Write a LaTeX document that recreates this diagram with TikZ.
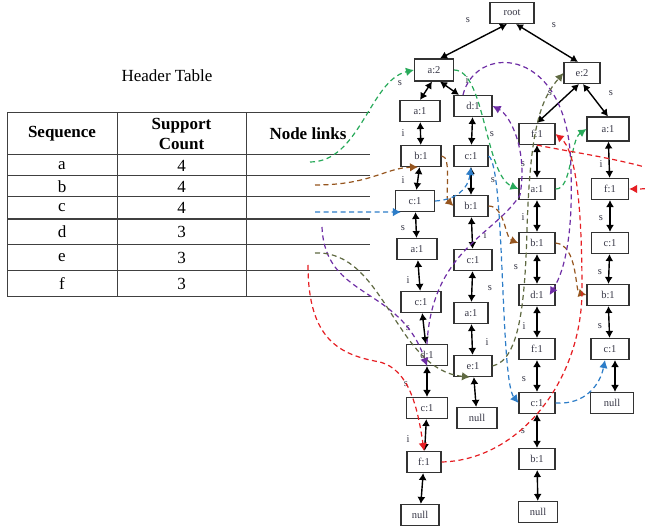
\documentclass[tikz,border=0pt]{standalone}
\usepackage{fontspec}
\setmainfont{Liberation Serif}
\usetikzlibrary{arrows.meta}
\definecolor{lkgreen}{RGB}{40,170,90}
\definecolor{lkbrown}{RGB}{150,85,30}
\definecolor{lkblue}{RGB}{45,125,200}
\definecolor{lkpurple}{RGB}{110,45,165}
\definecolor{lkolive}{RGB}{95,105,65}
\definecolor{lkred}{RGB}{230,30,35}
\definecolor{inkgray}{RGB}{55,55,70}
\begin{document}
\begin{tikzpicture}[x=1pt,y=-1pt,
  box/.style={draw=black!80, line width=1.1pt, minimum width=36pt, minimum height=21pt,
              inner sep=0pt, text=inkgray, font=\fontsize{10.5}{12}\selectfont},
  tree/.style={{Latex[length=7pt,width=8pt]}-{Latex[length=7pt,width=8pt]}, line width=1.4pt},
  tag/.style={text=inkgray, font=\fontsize{10.5}{12}\selectfont, inner sep=0pt},
  nl/.style={dash pattern=on 5pt off 3.5pt, line width=1.2pt, -{Latex[length=8pt,width=8.5pt]}},
  rule/.style={draw=black!75, line width=1pt},
  cell/.style={font=\fontsize{17}{20}\selectfont, inner sep=0pt},
  hcell/.style={font=\fontsize{17}{20}\selectfont\bfseries, inner sep=0pt, align=center},
]
\useasboundingbox (0,0) rectangle (645,529);
\fill[white] (0,0) rectangle (645,529);
\clip (0,0) rectangle (645,529);

% ---------- header table ----------
\node[cell] (title) at (167,76) {Header Table};
\foreach \yy in {113,155,176,197,245,271,297}
  \draw[rule] (7,\yy) -- (370,\yy);
\draw[rule, line width=1.6pt] (7,219) -- (370,219);
\foreach \xx in {7,117,246}
  \draw[rule] (\xx,113) -- (\xx,297);
\node[hcell] (hseq) at (62,134) {Sequence};
\node[hcell] (hsup) at (181.5,134) {Support\\Count};
\node[hcell] (hlnk) at (308,134) {Node links};
\foreach \s/\c/\yy [count=\k] in {a/4/165.5, b/4/186.5, c/4/208, d/3/232, e/3/258, f/3/284}{
  \node[cell] (seq\k) at (62,\yy) {\s};
  \node[cell] (cnt\k) at (181.5,\yy) {\c};
}
\coordinate (la) at (310,162);
\coordinate (lb) at (315,185);
\coordinate (lc) at (315,212);
\coordinate (ld) at (322,227);
\coordinate (le) at (315,253);
\coordinate (lf) at (308,265);

% ---------- tree nodes ----------
\node[box, minimum width=44pt] (root) at (512,13) {root};
\node[box, minimum width=39pt, minimum height=22pt] (a2) at (434,70) {a:2};
\node[box] (e2) at (582,73) {e:2};
% first branch
\node[box, minimum width=40pt] (c1a1) at (420,111) {a:1};
\node[box, minimum width=40pt] (c1b1) at (421,156) {b:1};
\node[box, minimum width=39pt] (c1c1) at (415,201) {c:1};
\node[box, minimum width=40pt] (c1a2) at (417,249) {a:1};
\node[box, minimum width=40pt] (c1c2) at (421,302) {c:1};
\node[box, minimum width=41pt] (c1d1) at (427,355) {d:1};
\node[box, minimum width=41pt] (c1c3) at (427,408) {c:1};
\node[box, minimum width=34pt] (c1f1) at (424,462) {f:1};
\node[box, minimum width=38pt] (c1nl) at (420,515) {null};
% second branch
\node[box, minimum width=38pt] (c2d1) at (473,106) {d:1};
\node[box, minimum width=34pt] (c2c1) at (471,156) {c:1};
\node[box, minimum width=34pt] (c2b1) at (471,206) {b:1};
\node[box, minimum width=38pt] (c2c2) at (473,260) {c:1};
\node[box, minimum width=34pt] (c2a1) at (471,313) {a:1};
\node[box, minimum width=38pt] (c2e1) at (473,366) {e:1};
\node[box, minimum width=40pt] (c2nl) at (477,418) {null};
% third branch
\node[box] (c3f1) at (537,134) {f:1};
\node[box] (c3a1) at (537,189) {a:1};
\node[box] (c3b1) at (537,243) {b:1};
\node[box] (c3d1) at (537,295) {d:1};
\node[box] (c3f2) at (537,349) {f:1};
\node[box] (c3c1) at (537,403) {c:1};
\node[box] (c3b2) at (537,459) {b:1};
\node[box, minimum width=39pt] (c3nl) at (538,512) {null};
% fourth branch
\node[box, minimum width=42pt, minimum height=24pt] (c4a1) at (608,129) {a:1};
\node[box, minimum width=37pt] (c4f1) at (610,189) {f:1};
\node[box, minimum width=37pt] (c4c1) at (610,243) {c:1};
\node[box, minimum width=42pt] (c4b1) at (608,295) {b:1};
\node[box, minimum width=38pt] (c4c2) at (610,349) {c:1};
\node[box, minimum width=43pt] (c4nl) at (612,403) {null};

% ---------- tree links ----------
\draw[tree] ([xshift=-5pt]root.south) -- ([xshift=6pt]a2.north);
\draw[tree] ([xshift=4pt]root.south) -- ([xshift=-4pt]e2.north);
\draw[tree] ([xshift=-2pt]a2.south) -- (c1a1.north);
\draw[tree] ([xshift=6pt]a2.south) -- ([xshift=-14pt]c2d1.north);
\draw[tree] ([xshift=-3pt]e2.south) -- (c3f1.north);
\draw[tree] ([xshift=1pt]e2.south) -- (c4a1.north);
\draw[tree] (c1a1) -- (c1b1);
\draw[tree] (c1b1) -- (c1c1);
\draw[tree] (c1c1) -- (c1a2);
\draw[tree] (c1a2) -- (c1c2);
\draw[tree] (c1c2) -- (c1d1);
\draw[tree] (c1d1) -- (c1c3);
\draw[tree] (c1c3) -- (c1f1);
\draw[tree] (c1f1) -- (c1nl);
\draw[tree] (c2d1) -- (c2c1);
\draw[tree] (c2c1) -- (c2b1);
\draw[tree] (c2b1) -- (c2c2);
\draw[tree] (c2c2) -- (c2a1);
\draw[tree] (c2a1) -- (c2e1);
\draw[tree] (c2e1) -- (c2nl);
\draw[tree] (c3f1) -- (c3a1);
\draw[tree] (c3a1) -- (c3b1);
\draw[tree] (c3b1) -- (c3d1);
\draw[tree] (c3d1) -- (c3f2);
\draw[tree] (c3f2) -- (c3c1);
\draw[tree] (c3c1) -- (c3b2);
\draw[tree] (c3b2) -- (c3nl);
\draw[tree] (c4a1) -- (c4f1);
\draw[tree] (c4f1) -- (c4c1);
\draw[tree] (c4c1) -- (c4b1);
\draw[tree] (c4b1) -- (c4c2);
\draw[tree] ([xshift=5pt]c4c2.south) -- ([xshift=3pt]c4nl.north);

% link tags
\foreach \x/\y/\t [count=\k] in {
  468/20/s, 554/25/s, 400/83/s, 467/80/i, 550/93/s, 611/93/s,
  403/133/i, 403/180/i, 403/228/s, 408/280/i, 408/328/s, 406/384/s, 408/439/i,
  492/134/s, 493/180/s, 485/235/i, 490/288/s, 487/342/i,
  523/164/s, 523/217/i, 516/267/s, 524/326/i, 524/379/s, 523/431/s,
  601/164/i, 601/218/s, 600/272/s, 600/326/s}
  \node[tag] (tag\k) at (\x,\y) {\t};

% ---------- node links ----------
\draw[nl, lkgreen] (la) .. controls (360,162) and (370,80) .. (a2.west);
\draw[nl, lkgreen] (a2.east) .. controls (485,70) and (485,175) .. (c3a1.west);
\draw[nl, lkgreen] (c3a1.east) .. controls (572,190) and (570,140) .. (c4a1.west);

\draw[nl, lkbrown] (lb) .. controls (370,185) and (385,168) .. ([xshift=-3pt]c1b1.south);
\draw[nl, lkbrown] (c1b1.east) .. controls (452,155) and (445,198) .. (c2b1.west);
\draw[nl, lkbrown] (c2b1.east) .. controls (505,206) and (505,238) .. (c3b1.west);
\draw[nl, lkbrown] (c3b1.east) .. controls (578,245) and (575,292) .. (c4b1.west);

\draw[nl, lkblue] (lc) -- ([xshift=6pt]c1c1.south west);
\draw[nl, lkblue] (c1c1.east) .. controls (455,200) and (468,190) .. (c2c1.south);
\draw[nl, lkblue] (c2c1.east) .. controls (505,165) and (500,380) .. (c3c1.west);
\draw[nl, lkblue] (c3c1.east) .. controls (585,405) and (600,385) .. ([xshift=-5pt]c4c2.south);

\draw[nl, lkpurple] (ld) .. controls (325,300) and (400,285) .. (c1d1.south);
\draw[nl, lkpurple] (c1d1.north) .. controls (432,250) and (495,235) .. (520,195)
                    .. controls (528,150) and (510,115) .. (c2d1.east);
\draw[nl, lkpurple] ([xshift=-10pt]c2d1.north) .. controls (475,45) and (560,45) .. (570,150)
                    .. controls (575,230) and (565,270) .. ([xshift=-6pt]c3d1.east);

\draw[nl, lkolive] (le) .. controls (385,250) and (395,370) .. ([xshift=-3pt]c2e1.south);
\draw[nl, lkolive] (c2e1.east) .. controls (520,360) and (525,300) .. (527,230)
                   .. controls (530,130) and (540,100) .. (e2.west);

\draw[nl, lkred] (lf) .. controls (308,340) and (340,355) .. (380,362)
                 .. controls (410,370) and (418,410) .. (c1f1.north);
\draw[nl, lkred] (c1f1.east) .. controls (520,460) and (582,380) .. (582,290)
                 .. controls (582,200) and (575,150) .. (c3f1.east);
\draw[nl, lkred] (c3f1.south) .. controls (570,152) and (630,160) .. (670,175)
                 .. controls (690,182) and (660,189) .. (c4f1.east);
\end{tikzpicture}
\end{document}
